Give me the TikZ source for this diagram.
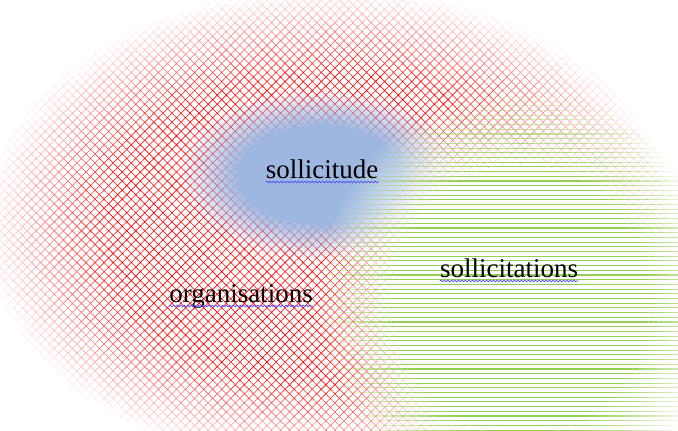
\documentclass[tikz,border=0pt]{standalone}
\usepackage{fontspec}
\setmainfont{Liberation Serif}
\usetikzlibrary{patterns.meta,decorations.pathmorphing}

\begin{document}
\begin{tikzpicture}
		[x=1bp,y=1bp,line cap=round,
		%Styles
		red cloud/.style={pattern={Hatch[angle=45,distance=6.4bp,line width=0.6bp]},pattern color=red!#1},
		green line/.style={draw=cloudgreen,line width=1.1bp,line cap=butt},
		blue cloud/.style={fill=cloudblue},
		ring/.style={even odd rule,fill opacity=#1},
		word/.style={inner sep=0pt,anchor=base,font=\fontsize{27bp}{30bp}\selectfont},
		wavy/.style={draw=wavyblue,line width=0.7bp,decorate,decoration={snake,amplitude=0.9bp,segment length=3.5bp}}
		]
		
		%Colors
		\definecolor{cloudgreen}{RGB}{146,208,80}	%horizontal lines
		\definecolor{cloudblue}{RGB}{158,183,224}	%middle cloud
		\definecolor{wavyblue}{RGB}{80,80,255}	%spelling marks
		
		\useasboundingbox (0,0) rectangle (678,430);
		
		%The graphic
		% red cloud, soft edge made of rings
		\foreach \k [evaluate=\k as \pc using int(100*\k/15), evaluate=\k as \so using 1.025-0.025*\k, evaluate=\k as \si using 1-0.025*\k] in {1,...,14}
			\fill[red cloud=\pc,even odd rule] (330,202) ellipse [x radius=345*\so, y radius=240*\so]
				(330,202) ellipse [x radius=345*\si, y radius=240*\si];
		\fill[red cloud=100] (330,202) ellipse [x radius=345*0.65, y radius=240*0.65];
		
		% blue cloud
		\foreach \k [evaluate=\k as \op using \k/17, evaluate=\k as \so using 1.025-0.025*\k, evaluate=\k as \si using 1-0.025*\k] in {1,...,16}
			\fill[blue cloud,ring=\op] (320,255) ellipse [x radius=140*\so, y radius=85*\so]
				(320,255) ellipse [x radius=140*\si, y radius=85*\si];
		\fill[blue cloud] (320,255) ellipse [x radius=140*0.6, y radius=85*0.6];
		
		% green cloud, white ground and lines drawn ring by ring
		\foreach \k [evaluate=\k as \op using \k/15, evaluate=\k as \so using 1.025-0.025*\k, evaluate=\k as \si using 1-0.025*\k] in {1,...,15}{
			\begin{scope}[even odd rule,opacity=\op]
				\ifnum\k<15
					\clip (520,130) ellipse [x radius=200*\so, y radius=210*\so]
						(520,130) ellipse [x radius=200*\si, y radius=210*\si];
				\else
					\clip (520,130) ellipse [x radius=200*\so, y radius=210*\so];
				\fi
				\fill[white] (310,-82) rectangle (730,345);
				\foreach \y in {-80.0,-75.3,...,342}
					\draw[green line] (310,\y) -- (730,\y);
			\end{scope}
		}
		
		\node[word] (sollicitude) at (322,252) {sollicitude};
		\node[word] (sollicitations) at (509,153) {sollicitations};
		\node[word] (organisations) at (241,128) {organisations};
		
		\draw[wavy] ([yshift=-4bp]sollicitude.base west) -- ([yshift=-4bp]sollicitude.base east);
		\draw[wavy] ([yshift=-4bp]sollicitations.base west) -- ([yshift=-4bp]sollicitations.base east);
		\draw[wavy] ([yshift=-4bp]organisations.base west) -- ([yshift=-4bp]organisations.base east);
	\end{tikzpicture}
\end{document}
